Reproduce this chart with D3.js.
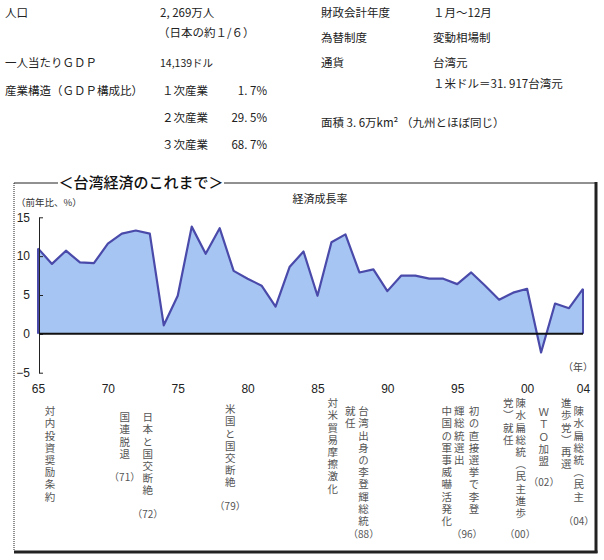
<!DOCTYPE html>
<html><head><meta charset="utf-8">
<script src="https://cdn.jsdelivr.net/npm/d3@7/dist/d3.min.js"></script>
<style>body{margin:0;background:#fff}svg{display:block}</style>
</head><body><svg id="c" width="604" height="560"></svg>
<script>
// ---- data ----
const years = [1965,1966,1967,1968,1969,1970,1971,1972,1973,1974,1975,1976,1977,1978,1979,1980,1981,1982,1983,1984,1985,1986,1987,1988,1989,1990,1991,1992,1993,1994,1995,1996,1997,1998,1999,2000,2001,2002,2003,2004];
const growth = [11.0,9.0,10.7,9.2,9.1,11.6,12.9,13.3,12.9,1.1,4.9,13.8,10.3,13.6,8.1,7.1,6.2,3.5,8.6,10.6,4.9,11.8,12.8,7.9,8.3,5.5,7.5,7.5,7.1,7.1,6.4,7.9,6.2,4.4,5.3,5.8,-2.4,3.9,3.3,5.8];
const yTicks = [-5,0,5,10,15];
const xTickYears = [1965,1970,1975,1980,1985,1990,1995,2000,2004];
const xTickLabels = ["65","70","75","80","85","90","95","00","04"];
const chartTitle = "＜台湾経済のこれまで＞";
const seriesTitle = "経済成長率";
const yUnit = "（前年比、%）";
const xUnit = "（年）";
const infoLabels = ["人口","一人当たりＧＤＰ","産業構造（ＧＤＰ構成比）","財政会計年度","為替制度","通貨","面積 3. 6万km² （九州とほぼ同じ）"];
const infoValues = ["2, 269万人","（日本の約１/６）","14,139ドル","１月～12月","変動相場制","台湾元","１米ドル＝31. 917台湾元"];
const industries = ["１次産業","２次産業","３次産業"];
const industryShares = ["1. 7%","29. 5%","68. 7%"];
// events: columns read right-to-left, and year label
const events = [
  {cols:["対内投資奨励条約"], label:""},
  {cols:["国連脱退"], label:"（71）"},
  {cols:["日本と国交断絶"], label:"（72）"},
  {cols:["米国と国交断絶"], label:"（79）"},
  {cols:["対米貿易摩擦激化"], label:""},
  {cols:["台湾出身の李登輝総統","就任"], label:"（88）"},
  {cols:["初の直接選挙で李登","輝総統選出","中国の軍事威嚇活発化"], label:"（96）"},
  {cols:["陳水扁総統（民主進歩","党）就任"], label:"（00）"},
  {cols:["ＷＴＯ加盟"], label:"（02）"},
  {cols:["陳水扁総統（民主","進歩党）再選"], label:"（04）"}
];

// ---- drawing ----
const svg = d3.select("#c");
const gothic = "'Noto Sans CJK JP', 'Noto Sans', sans-serif";
const numFont = "'Liberation Sans', Arial, sans-serif";

// info block
const info = svg.append("g").attr("font-family", gothic).attr("font-size", 11.5).attr("fill", "#222");
const leftRowsY = [13, 63, 91];
infoLabels.slice(0,3).forEach((t,i)=>info.append("text").attr("x",5).attr("y",leftRowsY[i]).attr("dy","0.35em").text(t));
info.append("text").attr("x",160).attr("y",13).attr("dy","0.35em").text(infoValues[0]);
info.append("text").attr("x",158).attr("y",33).attr("dy","0.35em").text(infoValues[1]);
info.append("text").attr("x",160).attr("y",63).attr("dy","0.35em").attr("font-size",10.5).text(infoValues[2]);
const indY = [91,118,145];
industries.forEach((t,i)=>{
  info.append("text").attr("x",162).attr("y",indY[i]).attr("dy","0.35em").text(t);
  info.append("text").attr("x",267).attr("y",indY[i]).attr("dy","0.35em").attr("text-anchor","end").text(industryShares[i]);
});
const rightRowsY = [13,38,63];
infoLabels.slice(3,6).forEach((t,i)=>info.append("text").attr("x",321).attr("y",rightRowsY[i]).attr("dy","0.35em").text(t));
infoValues.slice(3,6).forEach((t,i)=>info.append("text").attr("x",433).attr("y",rightRowsY[i]).attr("dy","0.35em").text(t));
info.append("text").attr("x",433).attr("y",84).attr("dy","0.35em").text(infoValues[6]);
info.append("text").attr("x",321).attr("y",123).attr("dy","0.35em").text(infoLabels[6]);

// frame
const fL=14, fT=183, fR=595, fB=551;
const frame = svg.append("g");
frame.append("line").attr("x1",fL).attr("x2",58).attr("y1",fT).attr("y2",fT).attr("stroke","#222").attr("stroke-width",1);
frame.append("line").attr("x1",224).attr("x2",fR).attr("y1",fT).attr("y2",fT).attr("stroke","#222").attr("stroke-width",1);
frame.append("line").attr("x1",fL).attr("x2",fL).attr("y1",fT).attr("y2",fB).attr("stroke","#222").attr("stroke-width",1).attr("stroke-dasharray","1,1");
frame.append("line").attr("x1",fR+1).attr("x2",fR+1).attr("y1",fT-1).attr("y2",fB+2).attr("stroke","#222").attr("stroke-width",3);
frame.append("line").attr("x1",fL).attr("x2",fR+2.5).attr("y1",fB+1).attr("y2",fB+1).attr("stroke","#222").attr("stroke-width",3);
svg.append("text").attr("x",141).attr("y",fT).attr("dy","0.36em").attr("text-anchor","middle")
  .attr("font-family",gothic).attr("font-size",15).attr("fill","#111").attr("font-weight",500).text(chartTitle);

// scales
const x = d3.scaleLinear().domain([1965,2004]).range([38,583]);
const y = d3.scaleLinear().domain([-5,15]).range([372.7,217.3]);

svg.append("text").attr("x",16).attr("y",203).attr("dy","0.35em").attr("font-family",gothic).attr("font-size",9.5).attr("fill","#333").text(yUnit);
svg.append("text").attr("x",320).attr("y",199).attr("dy","0.35em").attr("text-anchor","middle").attr("font-family",gothic).attr("font-size",11).attr("fill","#222").text(seriesTitle);

// area + line
const data = years.map((yr,i)=>({yr, v:growth[i]}));
svg.append("path").datum(data)
  .attr("d", d3.area().x(d=>x(d.yr)).y0(y(0)).y1(d=>y(d.v)))
  .attr("fill","#a7c5f2");
svg.append("path").datum(data)
  .attr("d", d3.line().x(d=>x(d.yr)).y(d=>y(d.v)))
  .attr("fill","none").attr("stroke","#4a4aaa").attr("stroke-width",2.2).attr("stroke-linejoin","round");
svg.append("path").datum([data[0], data[data.length-1]])
  .attr("d", d=>`M${x(d[0].yr)},${y(d[0].v)}V${y(0)}M${x(d[1].yr)},${y(d[1].v)}V${y(0)}`)
  .attr("stroke","#4a4aaa").attr("stroke-width",2);

// y axis
const yAxis = svg.append("g").attr("transform",`translate(39,0)`)
  .call(d3.axisLeft(y).tickValues(yTicks).tickSizeInner(-4).tickSizeOuter(0).tickPadding(9).tickFormat(d=>d<0?"−5":d));
yAxis.select(".domain").attr("stroke","#222");
yAxis.selectAll(".tick line").attr("stroke","#222");
yAxis.selectAll("text").attr("font-family",numFont).attr("font-size",12).attr("fill","#222");

// zero line
svg.append("line").attr("x1",39).attr("x2",583).attr("y1",y(0)).attr("y2",y(0)).attr("stroke","#111").attr("stroke-width",2);

// x axis labels
const xAxis = svg.append("g").attr("transform","translate(0,384)")
  .call(d3.axisBottom(x).tickValues(xTickYears).tickSize(0).tickPadding(0).tickFormat((d,i)=>xTickLabels[i]));
xAxis.select(".domain").remove();
xAxis.selectAll("text").attr("font-family",numFont).attr("font-size",12).attr("fill","#222");
svg.append("text").attr("x",578).attr("y",367).attr("dy","0.35em").attr("text-anchor","middle").attr("font-family",gothic).attr("font-size",10).attr("fill","#444").text(xUnit);

// events (vertical text, one text element per column)
const evLayout = [
  {xs:[1965.85], tops:[406], ly:0},
  {xs:[1971.2], tops:[412], ly:477},
  {xs:[1972.85], tops:[412], ly:514},
  {xs:[1978.75], tops:[404], ly:506},
  {xs:[1986.1], tops:[398], ly:0},
  {xs:[1988.3,1987.35], tops:[406,406], ly:534, lx:1988.3},
  {xs:[1996.2,1995.15,1994.25], tops:[406,406,406], ly:534, lx:1995.7},
  {xs:[1999.55,1998.65], tops:[398,398], ly:534, lx:1999.5},
  {xs:[2001.2], tops:[407], ly:482},
  {xs:[2003.7,2002.8], tops:[406,398], ly:521, lx:2003.7}
];
const ev = svg.append("g").attr("font-family",gothic).attr("font-size",10.5).attr("fill","#555");
events.forEach((e,i)=>{
  const L = evLayout[i];
  e.cols.forEach((col,j)=>{
    ev.append("text")
      .attr("x",x(L.xs[j])).attr("y",L.tops[j])
      .style("writing-mode","vertical-rl")
      .style("text-orientation","upright")
      .attr("letter-spacing",1.7)
      .text(col);
  });
  if (e.label) {
    ev.append("text").attr("x",x(L.lx||L.xs[0])).attr("y",L.ly).attr("dy","0.35em")
      .attr("text-anchor","middle").attr("font-size",10).text(e.label);
  }
});
</script></body></html>
